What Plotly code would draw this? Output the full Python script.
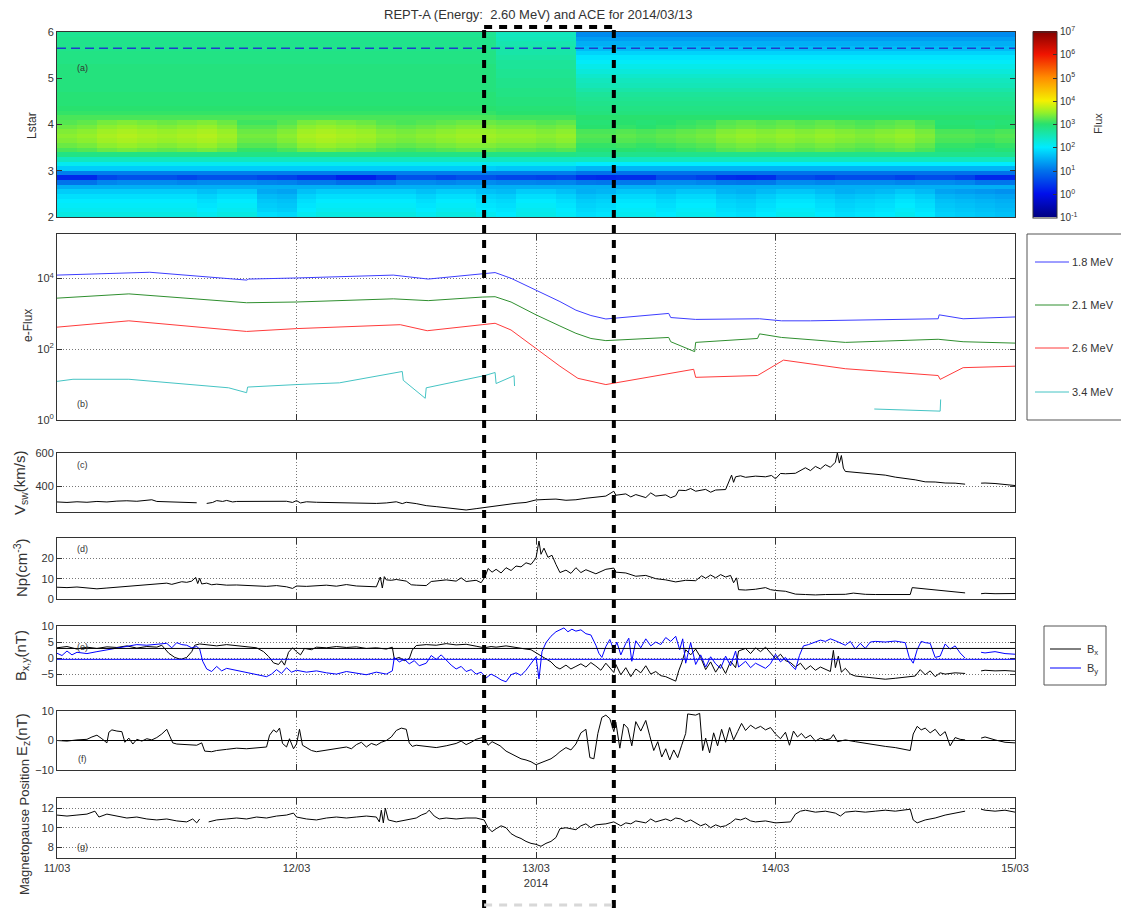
import pandas as pd
import plotly.graph_objects as go

W, H = 1121, 908
FONT = "Liberation Sans, Arial, Helvetica, sans-serif"
TXT = "#333333"
T0 = pd.Timestamp("2014-03-11 00:00")

# ---------------------------------------------------------------- text / ticks
title_text = "REPT-A (Energy:\u00a0 2.60 MeV) and ACE for 2014/03/13"
event_start = "2014-03-12 18:48"
event_end = "2014-03-13 07:48"
lstar_marker = 5.65
bx_level = 3.0
by_level = -0.4
day_ticks = ["2014-03-11", "2014-03-12", "2014-03-13", "2014-03-14", "2014-03-15"]
day_labels = ["11/03", "12/03", "13/03<br>2014", "14/03", "15/03"]
flux_tick_exp = [-1, 0, 1, 2, 3, 4, 5, 6, 7]
energy_names = ["1.8 MeV", "2.1 MeV", "2.6 MeV", "3.4 MeV"]

# ---------------------------------------------------------------- panel (a): Lstar vs time, log10 flux
lstar_centers = [2.05, 2.15, 2.25, 2.35, 2.45, 2.55, 2.65, 2.75, 2.85, 2.95,
                 3.05, 3.15, 3.25, 3.35, 3.45, 3.55, 3.65, 3.75, 3.85, 3.95,
                 4.05, 4.15, 4.25, 4.35, 4.45, 4.55, 4.65, 4.75, 4.85, 4.95,
                 5.05, 5.15, 5.25, 5.35, 5.45, 5.55, 5.65, 5.75, 5.85, 5.95]
map_hours = [1, 3, 5, 7, 9, 11, 13, 15, 17, 19, 21, 23, 25, 27, 29, 31, 33, 35, 37, 39,
             41, 43, 45, 47, 49, 51, 53, 55, 57, 59, 61, 63, 65, 67, 69, 71, 73, 75, 77, 79,
             81, 83, 85, 87, 89, 91, 93, 95]
profile_quiet = [2.2, 2.1, 2.05, 2.0, 1.9, 1.75, 1.5, 1.2, 0.65, 1.1,
                 1.75, 2.1, 2.45, 2.85, 3.15, 3.3, 3.4, 3.45, 3.4, 3.3,
                 3.2, 3.15, 3.05, 3.0, 2.95, 2.95, 2.95, 2.9, 2.9, 2.9,
                 2.9, 2.9, 2.9, 2.85, 2.85, 2.85, 2.8, 2.8, 2.8, 2.75]
profile_transition = [2.15, 2.1, 2.05, 2.0, 1.9, 1.75, 1.5, 1.2, 0.65, 1.1,
                      1.7, 2.1, 2.45, 2.85, 3.15, 3.3, 3.4, 3.45, 3.4, 3.3,
                      3.2, 3.1, 3.0, 2.95, 2.9, 2.9, 2.85, 2.85, 2.8, 2.8,
                      2.75, 2.75, 2.7, 2.7, 2.65, 2.6, 2.6, 2.55, 2.5, 2.45]
profile_storm = [2.1, 2.05, 2.0, 1.95, 1.85, 1.7, 1.5, 1.2, 0.6, 1.0,
                 1.55, 2.0, 2.45, 2.8, 3.05, 3.15, 3.25, 3.3, 3.25, 3.1,
                 3.05, 3.0, 2.9, 2.85, 2.8, 2.75, 2.7, 2.6, 2.5, 2.45,
                 2.35, 2.25, 2.15, 2.05, 1.95, 1.8, 1.6, 1.5, 1.35, 1.2]
column_phase = "qqqqqqqqqqqqqqqqqqqqqqttttssssssssssssssssssssss"
belt_adjust = [0.0, 0.05, 0.15, 0.2, 0.15, 0.1, 0.15, 0.2, 0.1, -0.1,
               -0.1, 0.0, 0.15, 0.2, 0.15, 0.1, 0.0, -0.05, 0.0, 0.05,
               0.1, 0.1, 0.05, 0.05, 0.0, 0.05, -0.1, -0.1, -0.05, -0.1,
               -0.05, 0.0, 0.05, 0.15, 0.2, 0.15, 0.2, 0.15, 0.2, 0.15,
               0.1, 0.15, 0.2, 0.1, -0.1, -0.1, -0.15, -0.1]
slot_adjust = [-0.4, -0.4, -0.1, 0.0, 0.0, 0.0, -0.1, 0.0, 0.0, 0.0,
               -0.1, -0.15, -0.3, -0.3, -0.5, -0.5, -0.3, 0.0, 0.0, -0.1,
               0.0, 0.0, -0.1, -0.1, -0.15, -0.1, -0.3, -0.35, -0.3, -0.3,
               0.0, 0.0, -0.1, -0.3, -0.35, -0.3, 0.0, 0.0, -0.1, 0.0,
               0.0, 0.0, -0.1, 0.0, 0.0, -0.1, -0.35, -0.35]
inner_adjust = [0, 0, 0, 0, 0, 0, 0, -0.1, 0, 0,
                -0.3, -0.35, -0.1, 0, 0, 0, 0, 0, -0.1, 0,
                0, -0.1, -0.15, 0, 0, -0.1, -0.2, -0.15, 0, 0,
                -0.1, 0, 0, -0.15, -0.2, -0.1, 0, 0, -0.1, -0.2,
                -0.15, -0.1, 0, -0.1, -0.3, -0.35, -0.4, -0.45]

# ---------------------------------------------------------------- panel (b): e-flux (hours since 11/03 00:00, flux)
flux_18 = [(0, 12300), (9.3, 14800), (19, 8900), (19.2, 9500), (24, 10200), (33.7, 12300),
           (37.2, 9500), (42.6, 12900), (43.9, 14500), (45.5, 10000), (48, 4700), (50.4, 2200),
           (52, 1260), (53.5, 890), (55, 710), (61.3, 1020), (61.5, 780), (64, 690), (70.4, 720),
           (72.6, 630), (75.5, 630), (86.2, 710), (88.3, 720), (88.4, 930), (90.8, 720), (96, 810)]
flux_21 = [(0, 2750), (7.2, 3630), (19, 2040), (24, 2140), (33.7, 2630), (37.2, 2340),
           (42.6, 2950), (43.9, 3020), (45.5, 2140), (48, 930), (50.4, 450), (52, 280),
           (53.5, 200), (55, 174), (61.3, 214), (61.5, 162), (63.9, 85), (64.0, 155),
           (70.2, 200), (70.4, 270), (72.6, 214), (79, 155), (88.3, 190), (90.8, 162), (96, 148)]
flux_26 = [(0, 417), (7.2, 630), (19, 316), (24, 380), (34.4, 490), (37.1, 331), (42.6, 490),
           (43.9, 537), (45.5, 347), (48, 105), (50.4, 33), (52.2, 15), (55, 10), (63.8, 27),
           (64.0, 16), (70.2, 18), (72.8, 49), (79, 28), (88.3, 18), (88.5, 14), (90.8, 30), (96, 33)]
flux_34 = [(0, 12.3), (1.6, 14.1), (7.2, 14.1), (17.2, 8.1), (19, 5.9), (19.1, 8.5), (24, 10.0),
           (28.3, 11.2), (34.6, 23.4), (34.7, 13.2), (36.9, 4.1), (37.0, 8.1), (42.8, 17.8),
           (43.9, 21.9), (44.0, 10.7), (45.8, 17.8), (45.85, 9.1), (46, None),
           (81.9, 2.04), (88.5, 1.78), (88.55, 3.8)]

# ---------------------------------------------------------------- panel (c): solar wind speed (km/s)
vsw = [(0, 308), (1, 305), (2, 309), (3, 306), (4, 311), (5, 308), (6, 313), (7, 315), (8, 312),
       (9, 316), (9.5, 321), (10, 311), (11, 309), (12, 306), (13, 305), (14, 303), (14.4, None),
       (15, 299), (15.6, 305), (16, 316), (16.6, 311), (17, 317), (17.6, 308), (18, 311), (19, 312),
       (20, 310), (21, 313), (22, 311), (23, 312), (23.6, 305), (24, 316), (24.4, 302), (25, 309),
       (26, 306), (27, 305), (28, 303), (29, 302), (30, 300), (31, 301), (32, 299), (33, 302),
       (34, 309), (34.6, 298), (35, 306), (36, 298), (37, 286), (38, 280), (39, 272), (40, 266),
       (41, 260), (42, 268), (43, 277), (44, 285), (45, 292), (46, 300), (47, 305), (48, 320),
       (49, 323), (50, 325), (51, 318), (52, 321), (53, 330), (54, 337), (55, 343), (55.8, 372),
       (56, 348), (57, 356), (57.5, 338), (58, 352), (59, 334), (59.5, 362), (60, 343), (61, 350),
       (61.5, 333), (62, 345), (62.3, 378), (63, 376), (63.5, 388), (64, 372), (65, 383),
       (65.5, 366), (66, 379), (67, 382), (67.3, 430), (67.6, 468), (67.8, 425), (68, 458),
       (68.5, 464), (69, 455), (70, 462), (71, 458), (71.6, 466), (72, 446), (72.5, 478),
       (73, 476), (74, 479), (74.5, 498), (75, 512), (75.5, 495), (76, 520), (76.5, 505),
       (77, 530), (77.5, 515), (78, 545), (78.2, 600), (78.4, 540), (78.6, 585), (78.8, 510),
       (79, 490), (80, 485), (81, 481), (82, 474), (83, 468), (84, 456), (85, 450), (86, 440),
       (87, 428), (88, 427), (89, 421), (90, 420), (91, 414), (91.5, None), (92.6, 420),
       (93, 421), (94, 418), (95, 410), (96, 406)]

# ---------------------------------------------------------------- panel (d): proton density (cm^-3)
np_density = [(0, 5.8), (1, 5.6), (2, 5.9), (3, 5.5), (4, 5.0), (5, 5.4), (6, 5.8), (7, 6.0),
              (8, 6.3), (9, 6.9), (10, 7.4), (11, 7.8), (11.5, 7.2), (12, 8.0), (12.5, 8.5),
              (13, 8.2), (13.5, 8.8), (13.9, 10.6), (14.1, 7.6), (14.3, 10.2), (14.5, 7.4),
              (15, 7.8), (15.5, 7.0), (16, 7.3), (17, 6.8), (18, 6.9), (19, 6.6), (20, 6.4),
              (21, 6.2), (22, 6.6), (23, 6.0), (23.6, 5.2), (24, 6.4), (25, 6.2), (26, 6.6),
              (27, 6.8), (28, 6.3), (29, 7.1), (30, 6.4), (31, 6.2), (32, 6.0), (32.4, 10.8),
              (32.6, 5.4), (32.8, 11.0), (33, 9.4), (33.5, 9.2), (34, 9.6), (35, 8.8), (35.5, 7.0),
              (36, 6.8), (37, 6.6), (37.5, 8.6), (38, 8.9), (39, 9.4), (40, 8.8), (40.5, 10.4),
              (41, 8.6), (42, 9.2), (42.5, 8.0), (42.9, 11.0), (43.2, 15.0), (43.6, 13.2),
              (44, 14.6), (44.5, 12.8), (45, 15.4), (45.5, 14.0), (46, 16.2), (46.5, 15.8),
              (47, 17.8), (47.5, 17.0), (48, 20.2), (48.3, 28.5), (48.5, 22.0), (48.8, 25.0),
              (49.2, 20.5), (49.6, 21.5), (50, 17.0), (50.4, 13.0), (51, 14.2), (51.5, 12.6),
              (52, 15.4), (52.5, 13.0), (53, 14.4), (54, 12.4), (55, 14.6), (55.8, 15.2),
              (56, 13.2), (57, 12.8), (58, 11.2), (59, 11.6), (60, 10.0), (61, 9.4), (62, 8.4),
              (63, 9.2), (64, 9.0), (64.6, 11.4), (65, 10.2), (65.5, 11.8), (66, 10.4),
              (66.5, 12.0), (67, 10.8), (67.5, 11.6), (67.8, 8.0), (68.1, 10.4), (68.3, 4.6),
              (69, 4.4), (70, 4.8), (71, 5.6), (71.5, 4.6), (72, 4.2), (73, 3.8), (73.5, 3.0),
              (74, 2.4), (75, 2.2), (76, 2.0), (77, 2.2), (78, 2.1), (79, 2.3), (79.8, 2.9),
              (80.5, 2.4), (81, 2.3), (82, 2.2), (83, 2.3), (84, 2.1), (85, 2.4), (85.5, 2.2),
              (85.7, 5.6), (86.5, 5.2), (87, 4.8), (88, 4.4), (89, 4.0), (90, 3.2), (91, 3.0),
              (91.5, None), (92.6, 2.6), (93, 2.8), (94, 2.6), (95, 2.8), (96, 2.7)]

# ---------------------------------------------------------------- panel (e): Bx, By (nT)
bx = [(0, 3.2), (1, 3.6), (2, 2.8), (3, 3.4), (4, 3.0), (5, 3.5), (6, 3.3), (7, 3.8), (8, 3.1),
      (9, 3.6), (10, 3.4), (10.5, 4.0), (11.2, 1.5), (11.8, 0.2), (12.4, -0.4), (13, 0.2),
      (13.5, 2.0), (13.8, 4.0), (14.3, 4.4), (15, 4.1), (16, 3.8), (17, 4.2), (18, 3.9),
      (19, 3.6), (20, 3.2), (20.7, 2.0), (21.2, 0.5), (21.7, -1.5), (22.2, -2.0), (22.5, -0.8),
      (22.8, -2.2), (23.2, 1.8), (23.6, 3.2), (24, 2.0), (24.4, 1.0), (24.8, 3.0), (25.5, 2.6),
      (26, 3.4), (27, 3.2), (28, 3.6), (29, 3.3), (30, 3.5), (31, 3.0), (32, 3.2), (33, 2.8),
      (33.6, 3.4), (33.8, -0.3), (34.3, 0.2), (34.8, -0.8), (35.3, -0.2), (35.6, 2.5), (36, 3.9),
      (37, 4.2), (38, 4.0), (39, 4.5), (40, 4.1), (41, 4.3), (42, 3.7), (42.8, 3.2), (43.5, 3.6),
      (44, 3.4), (45, 3.8), (46, 3.2), (47, 2.8), (47.5, 2.6), (48, 1.6), (48.5, 0.8),
      (49, -0.4), (49.5, -1.2), (50, -2.8), (50.4, -3.4), (51, -2.2), (51.5, -3.4), (52, -2.6),
      (52.5, -1.8), (53, -2.8), (53.5, -1.4), (54, -2.5), (54.5, -3.8), (55, -1.6), (55.8, -4.5),
      (56, -2.0), (56.5, -5.2), (57, -3.0), (57.5, -5.8), (58, -3.4), (58.5, -4.6), (59, -2.4),
      (59.5, -5.0), (60, -4.2), (60.5, -5.5), (61, -5.8), (61.5, -6.4), (62, -7.2), (62.3, -4.0),
      (62.6, -1.5), (63, 2.6), (63.5, 1.0), (64, 2.8), (64.5, 0.2), (65, -3.6), (65.5, -1.2),
      (66, -4.4), (66.5, -2.0), (67, -4.8), (67.5, -1.0), (68, -3.0), (68.3, 2.2), (69, 3.0),
      (69.5, 1.4), (70, 3.2), (70.5, 2.0), (71, 3.4), (71.5, 1.6), (72, -0.2), (72.5, 1.2),
      (73, -0.8), (73.5, -1.4), (74, -2.8), (74.5, -1.6), (75, -3.6), (75.5, -2.4), (76, -3.8),
      (76.5, -2.8), (77, -3.4), (77.5, -4.2), (77.8, 2.4), (78, -3.0), (78.3, 0.6), (78.6, -4.4),
      (79, -3.2), (79.5, -5.0), (80, -5.6), (81, -6.0), (82, -6.4), (83, -6.6), (84, -6.3),
      (85, -6.0), (86, -5.6), (86.5, -3.6), (87, -5.2), (87.5, -4.0), (88, -5.8), (88.5, -4.6),
      (89, -5.0), (90, -4.6), (91, -4.8), (91.5, None), (92.6, -4.0), (93, -3.8), (94, -4.0),
      (95, -3.9), (96, -4.1)]
by = [(0, 1.5), (0.5, 0.8), (1, 2.2), (1.5, 1.0), (2, 1.8), (3, 1.4), (4, 2.0), (5, 2.6),
      (6, 3.2), (7, 3.8), (8, 4.2), (9, 4.0), (10, 4.4), (11, 4.6), (11.5, 3.2), (12, 4.8),
      (12.5, 4.2), (13, 4.0), (13.5, 3.2), (14, 3.6), (14.3, 2.8), (14.6, -1.0), (15, -3.4),
      (15.5, -4.2), (16, -2.6), (16.5, -4.0), (17, -3.2), (18, -3.8), (19, -4.6), (20, -5.2),
      (21, -5.8), (21.5, -5.0), (22, -3.6), (22.5, -4.8), (23, -3.0), (23.5, -4.4), (24, -3.8),
      (25, -4.4), (26, -4.0), (27, -4.6), (28, -5.0), (29, -4.2), (30, -4.8), (31, -5.2),
      (32, -4.4), (33, -5.0), (33.6, -4.0), (33.8, 0.2), (34.3, -1.2), (34.8, -0.4), (35.3, -1.8),
      (35.8, -0.8), (36.3, -2.4), (37, -1.6), (37.5, 0.8), (38, -0.4), (38.5, 1.0), (39, -0.6),
      (39.5, -2.2), (40, -3.4), (40.5, -2.6), (41, -4.2), (41.5, -3.6), (42, -5.0), (42.5, -4.4),
      (43, -6.2), (43.5, -5.0), (44, -5.8), (44.5, -6.8), (45, -7.4), (45.5, -5.2), (46, -4.6),
      (46.5, -5.4), (47, -3.8), (47.5, -1.6), (48, 0.4), (48.3, -6.5), (48.6, 2.0), (49, 4.8),
      (49.5, 6.8), (50, 8.2), (50.4, 8.8), (50.8, 9.4), (51.2, 8.2), (51.6, 9.0), (52, 8.4),
      (52.5, 8.8), (53, 7.6), (53.5, 7.2), (54, 4.0), (54.3, 1.5), (54.6, 0.2), (55, 3.6),
      (55.4, 5.8), (55.8, 2.4), (56.1, 5.0), (56.5, 1.0), (57, 4.6), (57.3, 6.2), (57.6, -1.0),
      (58, 5.4), (58.5, 3.2), (59, 6.0), (59.5, 3.8), (60, 5.0), (60.5, 4.2), (61, 6.4),
      (61.5, 5.2), (62, 6.8), (62.4, 2.6), (62.7, 6.0), (63, -1.6), (63.5, 4.8), (64, -2.0),
      (64.5, 1.0), (65, -2.8), (65.5, 0.4), (66, -1.8), (66.5, -3.2), (67, 0.6), (67.5, -2.4),
      (68, 2.2), (68.3, -2.8), (69, -1.0), (69.5, -3.0), (70, -1.6), (70.5, -2.4), (71, -3.2),
      (71.5, -1.8), (72, 1.2), (72.5, -1.2), (73, 0.2), (73.5, -2.0), (74, -3.6), (74.4, 0.8),
      (74.8, 3.8), (75.3, 4.2), (76, 5.0), (76.5, 5.6), (77, 5.2), (77.5, 6.0), (78, 5.4),
      (78.5, 4.6), (79, 4.0), (79.5, 5.2), (80, 2.8), (80.5, 4.6), (81, 3.0), (81.5, 5.0),
      (82, 5.2), (83, 5.0), (84, 5.3), (85, 4.8), (85.4, 0.2), (85.8, -1.6), (86.2, 2.6),
      (86.6, 5.2), (87, 4.8), (87.5, 4.6), (88, 0.2), (88.5, 0.6), (89, 4.4), (89.5, 2.8),
      (90, 3.8), (90.5, 1.6), (91, 0.0), (91.5, None), (92.6, 1.8), (93, 1.6), (94, 2.0),
      (95, 1.4), (96, 1.2)]

# ---------------------------------------------------------------- panel (f): Bz (nT)
bz = [(0, 0.0), (1, -0.2), (2, 0.2), (3, 0.4), (3.5, 1.2), (4, 1.8), (4.5, 0.6), (5, -0.8),
      (5.2, 2.8), (5.5, 3.6), (6, 3.2), (6.5, 3.0), (6.8, -0.6), (7.2, 0.8), (7.6, -1.2),
      (8, 0.4), (8.5, -0.2), (9, 0.6), (9.5, 0.2), (10, 1.0), (10.5, 2.2), (11, 3.8), (11.3, 1.5),
      (11.6, -0.8), (12, -1.2), (13, -1.4), (14, -1.6), (14.5, -0.8), (14.8, -3.6), (15.5, -3.8),
      (16, -3.4), (17, -3.0), (18, -2.6), (19, -2.8), (20, -2.4), (21, -2.2), (21.3, 1.8),
      (21.7, 3.6), (22, 2.8), (22.3, 4.2), (22.6, -1.0), (23, -2.2), (23.3, 0.6), (23.7, -2.8),
      (24, -1.2), (24.3, 3.8), (24.6, -1.6), (25, -2.4), (25.5, -3.4), (26, -3.8), (27, -3.2),
      (28, -2.6), (29, -2.2), (29.5, -2.8), (30, -1.4), (30.5, -0.6), (31, -2.2), (31.5, -1.0),
      (32, -1.6), (32.5, -0.6), (33, 0.0), (33.5, 1.2), (34, 3.4), (34.5, 4.2), (35, 3.8),
      (35.3, -0.8), (35.6, -2.0), (36, -1.6), (37, -2.0), (38, -2.4), (39, -1.8), (40, -1.0),
      (40.5, -0.2), (41, -1.4), (41.5, -0.6), (42, 0.4), (42.8, 1.2), (43.2, -1.6), (43.6, -0.4),
      (44, -1.2), (44.4, -1.8), (45, -3.6), (46, -5.4), (46.5, -6.2), (47, -6.6), (47.5, -7.2),
      (48, -8.2), (48.5, -7.6), (49, -7.0), (49.5, -6.2), (50, -5.0), (50.4, -3.8), (51, -2.4),
      (51.5, -3.2), (52, -1.2), (52.5, 2.6), (53, 3.8), (53.4, -5.8), (53.8, -6.2), (54.2, 2.4),
      (54.6, 7.8), (55, 8.6), (55.4, 7.4), (55.8, 3.0), (56, 6.2), (56.4, -2.6), (56.8, 5.6),
      (57.2, 4.2), (57.6, -1.8), (58, 6.4), (58.5, 3.2), (59, 6.8), (59.4, 1.6), (59.8, -3.4),
      (60.2, -0.4), (60.6, -5.6), (61, -2.8), (61.4, -6.6), (61.8, -3.2), (62.2, -5.8),
      (62.6, -1.6), (63, 2.4), (63.2, 9.0), (64, 8.6), (64.4, 9.2), (64.7, -3.4), (65, 0.8),
      (65.4, -4.2), (65.8, 2.6), (66.2, -1.8), (66.6, 3.8), (67, -0.6), (67.4, 4.4), (67.8, 0.2),
      (68.2, 3.0), (68.6, 5.8), (69, 3.4), (69.5, 5.2), (70, 4.0), (70.5, 4.8), (71, 3.6),
      (71.5, 4.4), (72, 2.2), (72.5, 0.6), (73, 2.8), (73.4, -1.6), (73.8, 3.2), (74.2, 1.2),
      (74.6, 2.4), (75, 0.8), (75.5, 1.8), (76, -0.2), (76.5, 0.8), (77, 0.2), (77.5, 0.6),
      (77.8, 2.0), (78.2, -0.4), (79, 0.2), (80, -0.4), (81, -1.0), (82, -1.4), (83, -2.0),
      (84, -2.4), (85, -3.0), (85.5, -3.4), (85.8, 2.2), (86.2, 4.8), (86.6, 3.6), (87, 4.2),
      (87.5, 2.6), (88, 3.8), (88.5, 1.6), (89, 3.0), (89.5, -1.8), (90, 1.0), (90.5, 0.4),
      (91, 0.2), (91.5, None), (92.6, 0.8), (93, 1.2), (94, 0.2), (95, -0.6), (96, -0.8)]

# ---------------------------------------------------------------- panel (g): magnetopause standoff (Re)
mp = [(0, 11.3), (1, 11.2), (2, 11.3), (3, 11.4), (3.8, 11.7), (4.2, 11.1), (5, 11.4), (6, 11.2),
      (7, 11.0), (8, 11.1), (9, 10.9), (10, 10.8), (11, 10.9), (12, 10.7), (13, 10.6), (13.6, 10.9),
      (14, 10.5), (14.3, 10.9), (14.6, None), (15.2, 10.6), (16, 10.8), (17, 10.9), (18, 11.0),
      (19, 10.9), (20, 11.1), (21, 11.0), (22, 11.2), (23, 11.3), (23.7, 11.5), (24, 11.1),
      (25, 10.9), (26, 10.8), (27, 11.0), (28, 11.1), (29, 11.0), (30, 11.1), (31, 11.2),
      (32, 11.1), (32.3, 10.6), (32.5, 11.8), (32.7, 10.5), (32.9, 12.0), (33.2, 10.8), (34, 10.6),
      (35, 10.8), (36, 11.0), (36.5, 11.3), (37, 11.5), (37.3, 11.8), (37.8, 11.2), (38.3, 10.9),
      (39, 11.0), (40, 10.9), (41, 11.0), (42, 11.0), (42.8, 10.8), (43.2, 10.0), (43.6, 9.6),
      (44, 9.9), (44.5, 10.2), (45, 10.0), (45.5, 9.4), (46, 9.1), (46.5, 8.9), (47, 8.6),
      (47.5, 8.4), (48, 8.3), (48.5, 8.1), (49, 8.4), (49.5, 8.6), (50, 9.0), (50.4, 9.9),
      (51, 10.0), (52, 9.8), (52.5, 10.2), (53, 10.4), (53.5, 10.0), (54, 10.3), (55, 10.4),
      (55.8, 10.6), (56.5, 10.2), (57, 10.5), (57.5, 10.4), (58, 10.7), (59, 10.5), (59.5, 10.9),
      (60, 10.6), (61, 10.9), (61.5, 10.7), (62, 11.0), (62.5, 10.9), (63, 10.6), (63.5, 10.8),
      (64, 10.5), (64.5, 10.2), (65, 10.4), (65.5, 10.0), (66, 10.3), (66.5, 10.1), (67, 10.2),
      (67.5, 10.5), (68, 10.9), (68.5, 10.8), (69, 11.0), (69.5, 10.7), (70, 10.6), (71, 10.7),
      (72, 10.5), (73, 10.6), (73.5, 10.6), (74, 11.4), (74.5, 11.7), (75, 11.8), (76, 11.6),
      (77, 11.7), (78, 11.5), (78.5, 11.2), (79, 11.6), (80, 11.7), (81, 11.6), (82, 11.7),
      (83, 11.8), (84, 11.7), (85, 11.8), (85.5, 11.9), (85.8, 10.8), (86.2, 10.5), (87, 10.8),
      (88, 11.0), (89, 11.3), (90, 11.5), (91, 11.7), (91.5, None), (92.6, 11.9), (93, 11.8),
      (94, 11.7), (95, 11.8), (96, 11.6)]


# ================================================================ helpers
def px_x(p):
    return p / W


def px_y(p):
    return 1 - p / H


def to_time(hours):
    return [T0 + pd.Timedelta(hours=h) for h in hours]


def unzip(samples):
    return to_time([s[0] for s in samples]), [s[1] for s in samples]


# heatmap matrix built from the typed profiles and per-column adjustments
profiles = {"q": profile_quiet, "t": profile_transition, "s": profile_storm}
z = []
for r in range(len(lstar_centers)):
    row = []
    for c in range(len(map_hours)):
        v = profiles[column_phase[c]][r]
        if 14 <= r <= 20:
            v += belt_adjust[c]
        if r == 8:
            v += slot_adjust[c]
        if r == 7:
            v += 0.5 * slot_adjust[c]
        if r <= 5:
            v += inner_adjust[c]
        row.append(v)
    z.append(row)

JET = [[0.0, "rgb(0,0,130)"], [0.125, "rgb(0,15,235)"], [0.25, "rgb(0,115,235)"],
       [0.375, "rgb(0,235,255)"], [0.5, "rgb(40,225,110)"], [0.5625, "rgb(150,240,40)"],
       [0.625, "rgb(245,240,0)"], [0.75, "rgb(255,140,0)"], [0.875, "rgb(240,20,0)"],
       [1.0, "rgb(130,0,0)"]]

PX_LEFT, PX_RIGHT = 57, 1015
PANELS = [(32, 217), (234, 420), (453, 512), (538, 599), (626, 685), (711, 770), (798, 858)]

fig = go.Figure()

fig.add_trace(go.Heatmap(
    x=to_time(map_hours), y=lstar_centers, z=z, zmin=-1, zmax=7, colorscale=JET,
    zsmooth=False, hoverinfo="skip", xaxis="x", yaxis="y",
    colorbar=dict(x=px_x(1033), xanchor="left", xpad=0, ypad=0,
                  y=px_y(124.5), yanchor="middle", len=186 / H, lenmode="fraction",
                  thickness=24, thicknessmode="pixels", outlinewidth=1, outlinecolor="#333",
                  tickvals=flux_tick_exp,
                  ticktext=["10<sup>%d</sup>" % e for e in flux_tick_exp],
                  ticks="inside", ticklen=4, tickcolor="#333",
                  tickfont=dict(size=10, color=TXT, family=FONT))))

line_colors = ["#3d3dff", "#2f8f2f", "#ff3b3b", "#45c4c4"]
for samples, color in zip([flux_18, flux_21, flux_26, flux_34], line_colors):
    tx, ty = unzip(samples)
    fig.add_trace(go.Scatter(x=tx, y=ty, mode="lines", line=dict(color=color, width=1),
                             xaxis="x2", yaxis="y2", hoverinfo="skip"))

for samples, axis_n, color in [(vsw, 3, "black"), (np_density, 4, "black"), (bx, 5, "black"),
                               (by, 5, "#0000ff"), (bz, 6, "black"), (mp, 7, "black")]:
    tx, ty = unzip(samples)
    fig.add_trace(go.Scatter(x=tx, y=ty, mode="lines", line=dict(color=color, width=1),
                             xaxis="x%d" % axis_n, yaxis="y%d" % axis_n, hoverinfo="skip"))

# ---------------------------------------------------------------- axes
y_specs = {
    1: dict(range=[2, 6], tickvals=[2, 3, 4, 5, 6], showgrid=False),
    2: dict(type="log", range=[0, 5.25], tickvals=[1, 100, 10000],
            ticktext=["10<sup>0</sup>", "10<sup>2</sup>", "10<sup>4</sup>"]),
    3: dict(range=[248, 600], tickvals=[400, 600]),
    4: dict(range=[0, 30], tickvals=[0, 10, 20]),
    5: dict(range=[-8.4, 10], tickvals=[-5, 0, 5, 10]),
    6: dict(range=[-10, 10], tickvals=[-10, 0, 10], zeroline=True, zerolinecolor="#000",
            zerolinewidth=1),
    7: dict(range=[6.9, 13.05], tickvals=[8, 10, 12]),
}
GRID_DASH = "1px,2px"
layout_axes = {}
for i, (top, bot) in enumerate(PANELS, start=1):
    sx = "" if i == 1 else str(i)
    xa = dict(domain=[px_x(PX_LEFT), px_x(PX_RIGHT)], anchor="y" + sx, type="date",
              range=[day_ticks[0], day_ticks[-1]], tickvals=day_ticks, ticktext=day_labels,
              showticklabels=(i == 7), showline=True, linecolor="#333", linewidth=1,
              mirror="allticks" if i > 1 else True, ticks="inside" if i > 1 else "",
              ticklen=6, tickcolor="#333", automargin=False,
              showgrid=(i > 1), gridcolor="#777", griddash=GRID_DASH, gridwidth=1,
              zeroline=False, tickfont=dict(size=11, color=TXT, family=FONT))
    ya = dict(domain=[px_y(bot), px_y(top)], anchor="x" + sx, showline=True, linecolor="#333",
              linewidth=1, mirror="allticks", ticks="inside", ticklen=5, tickcolor="#333",
              showgrid=True, gridcolor="#777", griddash=GRID_DASH, gridwidth=1, zeroline=False,
              automargin=False, tickfont=dict(size=11, color=TXT, family=FONT))
    ya.update(y_specs[i])
    layout_axes["xaxis" + sx] = xa
    layout_axes["yaxis" + sx] = ya

# ---------------------------------------------------------------- shapes
dash_style = dict(color="black", width=4, dash="8px,7px")
shapes = [
    dict(type="line", xref="x domain", yref="y", x0=0, x1=1, y0=lstar_marker, y1=lstar_marker,
         line=dict(color="rgb(30,60,205)", width=1.5, dash="9px,5px")),
    dict(type="line", xref="x5 domain", yref="y5", x0=0, x1=1, y0=bx_level, y1=bx_level,
         line=dict(color="black", width=1)),
    dict(type="line", xref="x5 domain", yref="y5", x0=0, x1=1, y0=by_level, y1=by_level,
         line=dict(color="#0000ff", width=1)),
    dict(type="line", xref="x", yref="paper", x0=event_start, x1=event_start, y0=0,
         y1=px_y(27), line=dash_style),
    dict(type="line", xref="x", yref="paper", x0=event_end, x1=event_end, y0=0,
         y1=px_y(27), line=dash_style),
    dict(type="line", xref="x", yref="paper", x0=event_start, x1=event_end, y0=px_y(27),
         y1=px_y(27), line=dash_style),
    dict(type="line", xref="x", yref="paper", x0=event_start, x1=event_end, y0=px_y(905),
         y1=px_y(905), line=dict(color="#d8d8d8", width=3, dash="8px,7px")),
    # legend boxes
    dict(type="rect", xref="paper", yref="paper", x0=px_x(1027), x1=px_x(1130),
         y0=px_y(420), y1=px_y(234), line=dict(color="#555", width=1)),
    dict(type="rect", xref="paper", yref="paper", x0=px_x(1044), x1=px_x(1106),
         y0=px_y(685), y1=px_y(626), line=dict(color="#555", width=1)),
]
annotations = []
legend_rows_b = [262, 305, 348, 392]
for name, color, yy in zip(energy_names, line_colors, legend_rows_b):
    shapes.append(dict(type="line", xref="paper", yref="paper", x0=px_x(1035), x1=px_x(1069),
                       y0=px_y(yy), y1=px_y(yy), line=dict(color=color, width=1)))
    annotations.append(dict(x=px_x(1070), y=px_y(yy), xref="paper", yref="paper", text=name,
                            showarrow=False, xanchor="left", yanchor="middle",
                            font=dict(size=11, color=TXT, family=FONT)))
for label, color, yy in [("B<sub>x</sub>", "black", 649), ("B<sub>y</sub>", "#0000ff", 668)]:
    shapes.append(dict(type="line", xref="paper", yref="paper", x0=px_x(1050), x1=px_x(1081),
                       y0=px_y(yy), y1=px_y(yy), line=dict(color=color, width=1)))
    annotations.append(dict(x=px_x(1085), y=px_y(yy + 1), xref="paper", yref="paper", text=label,
                            showarrow=False, xanchor="left", yanchor="middle",
                            font=dict(size=11, color=TXT, family=FONT)))


# ---------------------------------------------------------------- text
def ann(text, x, y, size, angle=0, anchor="center"):
    annotations.append(dict(text=text, x=px_x(x), y=px_y(y), xref="paper", yref="paper",
                            showarrow=False, textangle=angle, xanchor=anchor, yanchor="middle",
                            font=dict(size=size, color=TXT, family=FONT)))


ann(title_text, 538, 15, 13)
ann("Flux", 1098, 124, 11, -90)
ann("Lstar", 32, 126, 12, -90)
ann("e-Flux", 28, 326, 12, -90)
ann("V<sub>sw</sub>(km/s)", 20, 483, 15, -90)
ann("Np(cm<sup>-3</sup>)", 20, 568, 15, -90)
ann("B<sub>x,y</sub>(nT)", 21, 656, 15, -90)
ann("E<sub>z</sub>(nT)", 22, 735, 15, -90)
ann("Magnetopause Position", 24, 827, 13, -90)
for lab, yy in [("(a)", 68), ("(b)", 404), ("(c)", 465), ("(d)", 549), ("(e)", 647),
                ("(f)", 759), ("(g)", 847)]:
    ann(lab, 82, yy, 9)

fig.update_layout(
    width=W, height=H, margin=dict(l=0, r=0, t=0, b=0, pad=0, autoexpand=False),
    autosize=False, paper_bgcolor="white", plot_bgcolor="white", showlegend=False,
    font=dict(family=FONT, color=TXT), shapes=shapes, annotations=annotations,
    **layout_axes)

fig.write_html("out.html")
